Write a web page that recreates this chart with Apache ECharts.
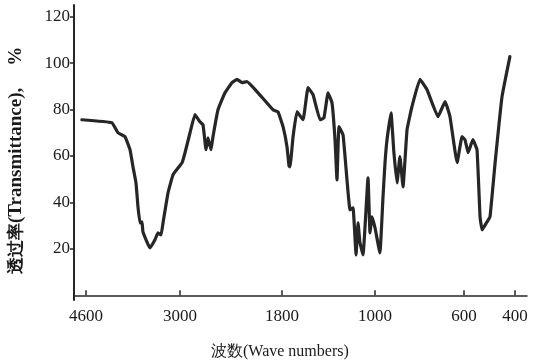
<!DOCTYPE html>
<html>
<head>
<meta charset="utf-8">
<script src="https://cdn.jsdelivr.net/npm/echarts@6/dist/echarts.min.js"></script>
<style>
  html, body { margin: 0; padding: 0; background: #fff; }
  #chart { width: 541px; height: 363px; }
</style>
</head>
<body>
<div id="chart"></div>
<script>
// wave numbers (cm-1) and transmittance (%)
const waveNumbers = [
    4670, 4160, 4055, 3936, 3851, 3800, 3749, 3715, 3681, 3647, 3630, 3511, 3426, 3375, 3323, 3289, 3204, 3119,
    2976, 2941, 2882, 2824, 2765, 2729, 2694, 2671, 2635, 2612, 2553, 2471, 2388, 2329, 2271, 2212, 2082, 1906, 1847,
    1791, 1757, 1740, 1731, 1705, 1671, 1619, 1576, 1533, 1473, 1439, 1404, 1370, 1344, 1327, 1310, 1275, 1241,
    1215, 1189, 1163, 1146, 1129, 1103, 1060, 1043, 1026, 1000,
    978, 964, 955, 946, 928, 915, 901, 888, 874, 856, 834, 798, 766, 717, 685, 663, 631, 609,
    596, 584, 565, 549, 537, 529, 510, 498, 478, 451, 420
];
const transmittance = [
    75.6, 74.3, 70.0, 68.3, 62.7, 55.3, 48.4, 38.1, 31.2, 31.6, 27.3, 20.4, 23.9, 26.9, 26.0, 31.2, 44.1, 51.9,
    57.1, 61.4, 70.0, 77.8, 74.7, 73.4, 62.7, 67.8, 62.7, 68.3, 79.9, 87.2, 91.6, 93.0, 91.6, 92.0, 87.2, 79.9, 79.0,
    72.6, 64.0, 55.8, 55.3, 68.3, 79.1, 75.6, 89.4, 86.4, 75.6, 76.4, 87.2, 82.9, 67.0, 49.7, 72.6, 69.1, 49.7,
    36.8, 37.7, 17.4, 31.2, 22.6, 17.4, 50.6, 26.9, 33.8, 29.1,
    18.3, 42.4, 57.1, 67.0, 78.6, 61.4, 48.4, 59.7, 46.7, 71.3, 81.2, 93.0, 88.5, 76.9, 83.4, 76.9, 57.1, 68.3,
    67.0, 61.4, 67.0, 62.7, 33.8, 28.2, 31.6, 33.8, 57.1, 85.5, 102.8
];
const xTicks = [4600, 3000, 1800, 1000, 600, 400];
const yTicks = [20, 40, 60, 80, 100, 120];

// the chart paper has a non-linear wave number scale; these are the tick places along the axis
const tickPlaces = [12, 106, 208, 301, 390, 441];
const axisLength = 453;

function waveToPlace (w) {
    let i = 0;
    while (i < xTicks.length - 2 && w < xTicks[i + 1]) {
        i++;
    }
    const w0 = xTicks[i], w1 = xTicks[i + 1];
    const p0 = tickPlaces[i], p1 = tickPlaces[i + 1];
    return p0 + (w0 - w) / (w0 - w1) * (p1 - p0);
}

function placeToLabel (p) {
    let best = 0;
    tickPlaces.forEach((t, i) => {
        if (Math.abs(t - p) < Math.abs(tickPlaces[best] - p)) best = i;
    });
    return String(xTicks[best]);
}

const seriesData = waveNumbers.map((w, i) => [waveToPlace(w), transmittance[i]]);

const serif = '"Liberation Serif", "DejaVu Serif", serif';
const ink = '#262626';

const myChart = echarts.init(document.getElementById('chart'), null, { renderer: 'canvas' });
const option = {
    animation: false,
    backgroundColor: '#fff',
    grid: { left: 74, right: 14, top: 5, bottom: 63 },
    xAxis: {
        type: 'value',
        min: 0,
        max: axisLength,
        axisLine: { show: true, lineStyle: { color: ink, width: 1.5 } },
        axisTick: {
            show: true,
            inside: true,
            length: 5,
            customValues: tickPlaces,
            lineStyle: { color: ink, width: 1.5 }
        },
        axisLabel: {
            customValues: tickPlaces,
            formatter: placeToLabel,
            color: '#1a1a1a',
            fontFamily: serif,
            fontSize: 17,
            margin: 8
        },
        splitLine: { show: false }
    },
    yAxis: {
        type: 'value',
        min: -2,
        max: 125,
        axisLine: { show: true, lineStyle: { color: ink, width: 2 } },
        axisTick: {
            show: true,
            length: 4,
            customValues: yTicks,
            lineStyle: { color: ink, width: 1.5 }
        },
        axisLabel: {
            customValues: yTicks,
            color: '#1a1a1a',
            fontFamily: serif,
            fontSize: 17,
            margin: 4
        },
        splitLine: { show: false }
    },
    graphic: [
        {
            type: 'text',
            left: 211,
            top: 344,
            style: {
                text: '波数(Wave numbers)',
                fill: '#1a1a1a',
                font: '16px ' + serif
            }
        },
        {
            type: 'text',
            x: 7,
            y: 274,
            rotation: Math.PI / 2,
            style: {
                text: '{zh|透过率}{en|(Transmittance),}{gap|}{en|%}',
                fill: '#1a1a1a',
                rich: {
                    zh: { font: 'bold 17px ' + serif, fill: '#1a1a1a' },
                    en: { font: 'bold 19px ' + serif, fill: '#1a1a1a' },
                    gap: { width: 22 }
                }
            }
        }
    ],
    series: [
        {
            type: 'line',
            data: seriesData,
            showSymbol: false,
            smooth: 0.1,
            lineStyle: { color: ink, width: 3.2, join: 'round', cap: 'round' }
        }
    ]
};
myChart.setOption(option);
</script>
</body>
</html>
